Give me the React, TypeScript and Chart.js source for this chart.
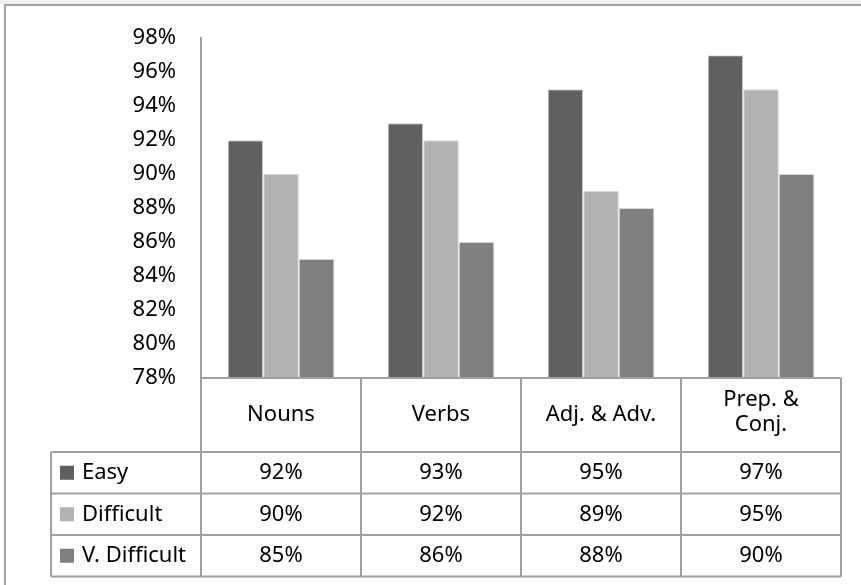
import React, { useEffect, useRef } from "react";
import { Chart, registerables } from "chart.js";

Chart.register(...registerables);

const categories: (string | string[])[] = ["Nouns", "Verbs", "Adj. & Adv.", ["Prep. &", "Conj."]];
const seriesNames = ["Easy", "Difficult", "V. Difficult"];
const easyValues = [92, 93, 95, 97];
const difficultValues = [90, 92, 89, 95];
const vDifficultValues = [85, 86, 88, 90];
const seriesColors = ["#606060", "#b2b2b2", "#808080"];
const yMin = 78;
const yMax = 98;
const yStep = 2;

const FONT_FAMILY = '"Noto Sans", "Open Sans", sans-serif';
const FONT_SIZE = 22;
const LINE_COLOR = "#a0a0a0";

const framePlugin = {
  id: "frame",
  beforeDraw(chart: any) {
    const ctx = chart.ctx;
    ctx.save();
    ctx.fillStyle = "#ffffff";
    ctx.fillRect(0, 0, chart.width, chart.height);
    ctx.fillStyle = "#f0f0f0";
    ctx.fillRect(0, 0, chart.width, 4);
    ctx.strokeStyle = LINE_COLOR;
    ctx.lineWidth = 2;
    ctx.beginPath();
    ctx.moveTo(5, chart.height);
    ctx.lineTo(5, 5);
    ctx.lineTo(chart.width, 5);
    ctx.stroke();
    ctx.restore();
  },
};

const tablePlugin = {
  id: "dataTable",
  afterDraw(chart: any) {
    const ctx = chart.ctx;
    const xs = chart.scales.x;
    const area = chart.chartArea;
    const n = categories.length;
    const colW = (area.right - area.left) / n;
    const top = area.bottom;
    const headerH = 74;
    const rowH = 41.5;
    const legendLeft = 51;
    const bottom = top + headerH + rowH * seriesNames.length;

    ctx.save();
    ctx.strokeStyle = LINE_COLOR;
    ctx.lineWidth = 2;
    ctx.beginPath();
    ctx.moveTo(area.left, top);
    ctx.lineTo(area.right, top);
    for (let r = 0; r <= seriesNames.length; r++) {
      const y = top + headerH + rowH * r;
      ctx.moveTo(legendLeft, y);
      ctx.lineTo(area.right, y);
    }
    ctx.moveTo(legendLeft, top + headerH);
    ctx.lineTo(legendLeft, bottom);
    ctx.moveTo(area.left, top);
    ctx.lineTo(area.left, bottom);
    for (let i = 0; i < n; i++) {
      const xr = xs.getPixelForValue(i) + colW / 2;
      ctx.moveTo(xr, top);
      ctx.lineTo(xr, bottom);
    }
    ctx.stroke();

    ctx.fillStyle = "#000000";
    ctx.font = `${FONT_SIZE}px ${FONT_FAMILY}`;
    ctx.textAlign = "center";
    ctx.textBaseline = "middle";
    categories.forEach((cat, i) => {
      const cx = xs.getPixelForValue(i);
      const cy = top + headerH / 2;
      const lines = Array.isArray(cat) ? cat : [cat];
      const lh = 25;
      lines.forEach((ln, k) => {
        const y = cy + (k - (lines.length - 1) / 2) * lh - (lines.length > 1 ? 3 : 0);
        ctx.fillText(ln, cx, y);
      });
    });

    const allSeries = [easyValues, difficultValues, vDifficultValues];
    allSeries.forEach((vals, r) => {
      const cy = top + headerH + rowH * r + rowH / 2;
      ctx.fillStyle = seriesColors[r];
      ctx.fillRect(60, cy - 7, 14, 14);
      ctx.fillStyle = "#000000";
      ctx.textAlign = "left";
      ctx.fillText(seriesNames[r], 82, cy);
      ctx.textAlign = "center";
      vals.forEach((v, i) => {
        ctx.fillText(`${v}%`, xs.getPixelForValue(i), cy);
      });
    });
    ctx.restore();
  },
};

export default function App() {
  const canvasRef = useRef<HTMLCanvasElement | null>(null);

  useEffect(() => {
    document.body.style.margin = "0";
    const canvas = canvasRef.current;
    if (!canvas) return;
    const labels = categories.map((c) => (Array.isArray(c) ? c.join(" ") : c));
    const chart = new Chart(canvas, {
      type: "bar",
      data: {
        labels,
        datasets: [
          { label: seriesNames[0], data: easyValues, backgroundColor: seriesColors[0], borderColor: "#d6d6d6", borderWidth: 1 },
          { label: seriesNames[1], data: difficultValues, backgroundColor: seriesColors[1], borderColor: "#d6d6d6", borderWidth: 1 },
          { label: seriesNames[2], data: vDifficultValues, backgroundColor: seriesColors[2], borderColor: "#d6d6d6", borderWidth: 1 },
        ],
      },
      options: {
        responsive: false,
        animation: false,
        devicePixelRatio: 1,
        layout: { padding: { left: 0, top: 35, right: 20, bottom: 207 } },
        datasets: { bar: { categoryPercentage: 0.667, barPercentage: 1 } },
        plugins: { legend: { display: false }, tooltip: { enabled: false } },
        scales: {
          x: { display: false },
          y: {
            min: yMin,
            max: yMax,
            afterFit(scale: any) {
              scale.width = 201;
            },
            grid: { display: false, drawTicks: false },
            border: { display: true, color: LINE_COLOR, width: 2 },
            ticks: {
              stepSize: yStep,
              padding: 25,
              color: "#000000",
              font: { family: FONT_FAMILY, size: FONT_SIZE },
              callback: (v: any) => `${v}%`,
            },
          },
        },
      },
      plugins: [framePlugin, tablePlugin],
    });
    return () => chart.destroy();
  }, []);

  return <canvas ref={canvasRef} width={861} height={585} style={{ display: "block", width: 861, height: 585 }} />;
}
